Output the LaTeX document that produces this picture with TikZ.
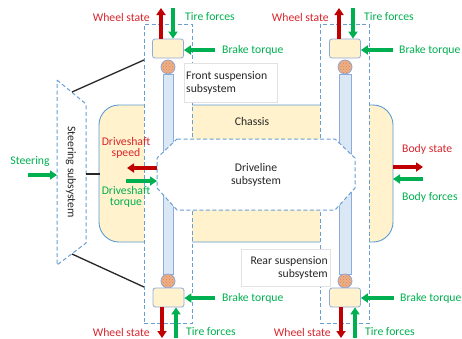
\documentclass[tikz,border=0pt]{standalone}
\usepackage{fontspec}
\setmainfont{Carlito}
\usetikzlibrary{arrows.meta,calc,patterns}

\definecolor{arrred}{HTML}{C00000}
\definecolor{txtred}{HTML}{D9262E}
\definecolor{grn}{HTML}{00B050}
\definecolor{dashblue}{HTML}{6A9FD4}
\definecolor{chfill}{HTML}{FFF2CC}
\definecolor{chline}{HTML}{5B9BD5}
\definecolor{rodfill}{HTML}{DAE8F6}
\definecolor{rodline}{HTML}{8FAADC}
\definecolor{hubfill}{HTML}{EFAE84}
\definecolor{hubdot}{HTML}{D08A60}
\definecolor{lblline}{HTML}{E2E2E2}

\tikzset{
  lbl/.style={font=\fontsize{11.7}{13.5}\selectfont, inner sep=0pt},
  redtxt/.style={lbl, text=txtred},
  grntxt/.style={lbl, text=grn},
  blk/.style={lbl, text=black!85},
  subsys/.style={draw=dashblue, fill=white, line width=1pt, dash pattern=on 4pt off 2.5pt},
  fatarrow/.style={line width=3.2pt, -{Triangle[length=7pt,width=9pt]}},
  redarrow/.style={fatarrow, draw=arrred},
  grnarrow/.style={fatarrow, draw=grn},
  wheel/.style={draw=rodline, fill=chfill, rounded corners=2.5pt, line width=0.8pt,
    minimum width=31pt, minimum height=19pt, inner sep=0pt},
  hub/.style={circle, draw=rodline, fill=hubfill, line width=0.8pt, minimum size=14pt, inner sep=0pt,
    postaction={pattern=crosshatch dots, pattern color=hubdot}},
  rod/.style={draw=rodline, fill=rodfill, line width=0.8pt},
  link/.style={draw=black!85, line width=1.3pt},
  tag/.style={draw=lblline, fill=white, line width=0.6pt},
}

\begin{document}
\begin{tikzpicture}[x=1pt,y=-1pt]
\useasboundingbox (0,0) rectangle (462,338);
\fill[white] (0,0) rectangle (462,338);

% chassis body
\node[draw=chline, fill=chfill, rounded corners=20pt, line width=0.9pt,
      minimum width=294pt, minimum height=137pt, inner sep=0pt] (chassis) at (246,173.5) {};

% suspension subsystems
\node[subsys, minimum width=48pt, minimum height=299pt, inner sep=0pt] (fsus) at (168,173.5) {};
\node[subsys, minimum width=49pt, minimum height=299pt, inner sep=0pt] (rsus) at (344.5,173.5) {};

% suspension struts
\draw[rod] (163,74) rectangle (173,274);
\draw[rod] (339,74) rectangle (351,274);

% driveline subsystem
\draw[subsys] (177,139) -- (335,139) -- (355,158) -- (355,188) -- (335,210)
  -- (177,210) -- (157,188) -- (157,158) -- cycle;
\node[blk, align=center] (drv) at (256,175) {Driveline\\subsystem};
\node[blk] (chlabel) at (252,121) {Chassis};

% subsystem tags
\draw[tag] (184,63) rectangle (277,102);
\node[blk, align=left, anchor=west] (ftag) at (186,83) {Front suspension\\subsystem};
\draw[tag] (241,249) rectangle (330,286);
\node[blk, align=right, anchor=east] (rtag) at (328,268) {Rear suspension\\subsystem};

% wheels and hubs
\node[hub] (hubFT) at (168,67) {};
\node[hub] (hubFB) at (168,281) {};
\node[hub] (hubRT) at (345,67) {};
\node[hub] (hubRB) at (345,281) {};
\node[wheel] (wFT) at (168,48.5) {};
\node[wheel] (wFB) at (168.5,297.5) {};
\node[wheel] (wRT) at (345,48.5) {};
\node[wheel] (wRB) at (345,297.5) {};

% steering subsystem
\draw[subsys] (57,80) -- (86,104) -- (86,243) -- (57,265) -- cycle;
\node[blk, rotate=-90] (steer) at (71,172) {Steering subsystem};
\coordinate (stTop) at (72,92);
\coordinate (stBot) at (72,254);
\coordinate (stMid) at (86,174);
\coordinate (fsTop) at (144,60);
\coordinate (fsBot) at (144,287);
\coordinate (chL) at (99.5,174);
\draw[link] (stTop) -- (fsTop);
\draw[link] (stBot) -- (fsBot);
\draw[link] (stMid) -- (chL);

% wheel signals, front
\coordinate (ftUp) at (161,8);
\coordinate (ftIn) at (173,8);
\draw[redarrow] (wFT.north -| ftUp) -- (ftUp);
\draw[grnarrow] (ftIn) -- (wFT.north -| ftIn);
\node[redtxt, anchor=east] (wsFT) at (150,17) {Wheel state};
\node[grntxt, anchor=west] (tfFT) at (185,17) {Tire forces};
\coordinate (fbDn) at (162,338);
\coordinate (fbIn) at (176,338);
\draw[redarrow] (wFB.south -| fbDn) -- (fbDn);
\draw[grnarrow] (fbIn) -- (wFB.south -| fbIn);
\node[redtxt, anchor=east] (wsFB) at (150,332) {Wheel state};
\node[grntxt, anchor=west] (tfFB) at (186,332) {Tire forces};

% wheel signals, rear
\coordinate (rtUp) at (339,8);
\coordinate (rtIn) at (353,8);
\draw[redarrow] (wRT.north -| rtUp) -- (rtUp);
\draw[grnarrow] (rtIn) -- (wRT.north -| rtIn);
\node[redtxt, anchor=east] (wsRT) at (329,17) {Wheel state};
\node[grntxt, anchor=west] (tfRT) at (364,17) {Tire forces};
\coordinate (rbDn) at (341,338);
\coordinate (rbIn) at (355,338);
\draw[redarrow] (wRB.south -| rbDn) -- (rbDn);
\draw[grnarrow] (rbIn) -- (wRB.south -| rbIn);
\node[redtxt, anchor=east] (wsRB) at (331,332) {Wheel state};
\node[grntxt, anchor=west] (tfRB) at (365,332) {Tire forces};

% brake torques
\coordinate (btFT) at (215,50);
\coordinate (btFB) at (215,298);
\coordinate (btRT) at (393,50);
\coordinate (btRB) at (394,298);
\draw[grnarrow] (btFT) -- (wFT.east |- btFT);
\draw[grnarrow] (btFB) -- (wFB.east |- btFB);
\draw[grnarrow] (btRT) -- (wRT.east |- btRT);
\draw[grnarrow] (btRB) -- (wRB.east |- btRB);
\node[grntxt, anchor=west] at (222,50) {Brake torque};
\node[grntxt, anchor=west] at (222,298) {Brake torque};
\node[grntxt, anchor=west] at (399,50) {Brake torque};
\node[grntxt, anchor=west] at (400,298) {Brake torque};

% driveshaft exchange
\coordinate (dsOut) at (127,168);
\coordinate (dsIn) at (126,181);
\coordinate (dvS) at (157,168);
\coordinate (dvT) at (157,181);
\draw[redarrow] (dvS) -- (dsOut);
\draw[grnarrow] (dsIn) -- (dvT);
\node[redtxt, align=center, font=\fontsize{11.7}{11}\selectfont] at (126,148) {Driveshaft\\speed};
\node[grntxt, align=center, font=\fontsize{11.7}{11}\selectfont] at (126,197) {Driveshaft\\torque};

% body exchange
\coordinate (chR) at (393,167);
\coordinate (bsOut) at (423,167);
\coordinate (chR2) at (393,179);
\coordinate (bfIn) at (423,179);
\draw[redarrow] (chR) -- (bsOut);
\draw[grnarrow] (bfIn) -- (chR2);
\node[redtxt, anchor=west] at (402,149) {Body state};
\node[grntxt, anchor=west] at (402,197) {Body forces};

% steering input
\coordinate (stIn) at (28,175);
\coordinate (stL) at (57,175);
\draw[grnarrow] (stIn) -- (stL);
\node[grntxt] at (30,161) {Steering};
\end{tikzpicture}
\end{document}
